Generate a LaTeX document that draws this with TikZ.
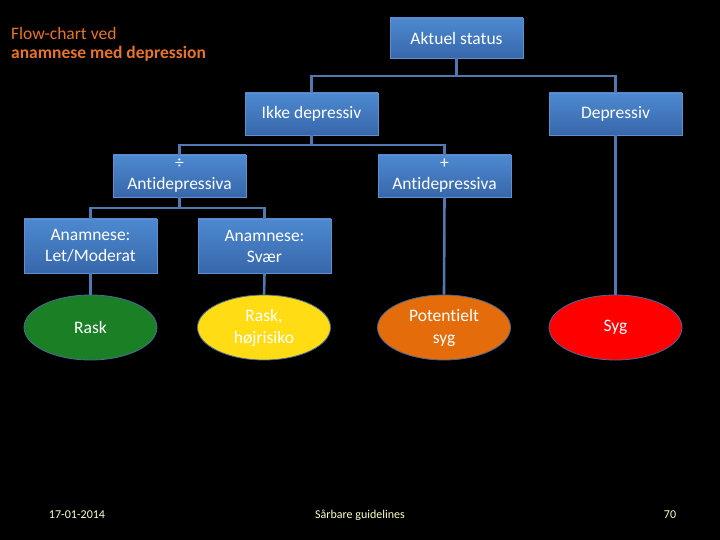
\documentclass[tikz,border=0pt]{standalone}
\usepackage{fontspec}
\setmainfont{Carlito}[Ligatures={NoCommon,NoRare,NoContextual}]
\usetikzlibrary{shapes.geometric}
\definecolor{bgc}{HTML}{000000}
\definecolor{titlec}{HTML}{E8742A}
\definecolor{boxtop}{HTML}{4D89D0}
\definecolor{boxbot}{HTML}{3767AA}
\definecolor{boxedge}{HTML}{5F8FCC}
\definecolor{linec}{HTML}{5178B0}
\definecolor{greenc}{HTML}{1A7F25}
\definecolor{yellowc}{HTML}{FFDC14}
\definecolor{orangec}{HTML}{E46C0A}
\definecolor{redc}{HTML}{FF0000}
\definecolor{elledge}{HTML}{4A6A9A}
\definecolor{footc}{HTML}{FFFFC8}
\tikzset{
  bluebox/.style={rectangle, draw=boxedge, line width=0.8pt, top color=boxtop, bottom color=boxbot,
    minimum width=133pt, text=white, align=center, font=\fontsize{17.5}{21}\selectfont, inner sep=1pt},
  oval/.style={ellipse, draw=elledge, line width=0.8pt, minimum width=133pt, minimum height=65pt,
    text=white, align=center, font=\fontsize{17.5}{22}\selectfont, inner sep=0pt},
  conn/.style={draw=linec, line width=2.6pt, line join=miter},
  foot/.style={text=footc, font=\fontsize{12}{14}\selectfont, inner sep=0pt}
}
\begin{document}
\begin{tikzpicture}[x=1pt,y=-1pt]
\fill[bgc] (0,0) rectangle (720,540);
\useasboundingbox (0,0) rectangle (720,540);

% title
\node[anchor=west, text=titlec, font=\fontsize{17.5}{20}\selectfont, inner sep=0pt] (t1) at (11,33) {Flow-chart ved};
\node[anchor=west, text=titlec, font=\fontsize{17.5}{20}\selectfont\bfseries, inner sep=0pt] (t2) at (11,54) {anamnese med depression};

% coordinates for junctions
\coordinate (j1) at (456.5,76);
\coordinate (j2) at (311.5,145);
\coordinate (j3) at (179.5,208);

% boxes
\node[bluebox, minimum height=40pt] (aktuel) at (456.5,38) {Aktuel status};
\node[bluebox, minimum height=42pt] (ikke) at (311.5,114) {Ikke depressiv};
\node[bluebox, minimum height=42pt] (depr) at (615.5,114) {Depressiv};
\node[bluebox, minimum height=42pt] (minus) at (179.5,176) {÷\\Antidepressiva};
\node[bluebox, minimum height=42pt] (plus) at (444.5,176) {+\\Antidepressiva};
\node[bluebox, minimum height=54pt] (let) at (90.5,246) {Anamnese:\\Let/Moderat};
\node[bluebox, minimum height=54pt] (svaer) at (264.5,246) {Anamnese:\\Svær};

% ellipses
\node[oval, fill=greenc] (rask) at (90.5,327.5) {Rask};
\node[oval, fill=yellowc] (hoj) at (264,327.5) {Rask,\\højrisiko};
\node[oval, fill=orangec] (pot) at (444,327.5) {Potentielt\\syg};
\node[oval, fill=redc] (syg) at (615.5,327.5) {Syg};

% connectors
\draw[conn] (aktuel.south) -- (j1);
\draw[conn] (ikke.north) |- (j1) -| (depr.north);
\draw[conn] (ikke.south) -- (j2);
\draw[conn] (minus.north) |- (j2) -| (plus.north);
\draw[conn] (minus.south) -- (j3);
\draw[conn] (let.north) |- (j3) -| (svaer.north);
\draw[conn] (let.south) -- (rask.north);
\draw[conn] (svaer.south) -- (hoj.north);
\draw[conn] (plus.south) -- (pot.north);
\draw[conn] (depr.south) -- (syg.north);

% footer
\node[foot] (date) at (77,515) {17-01-2014};
\node[foot] (mid) at (360,515) {Sårbare guidelines};
\node[foot] (num) at (670,515) {70};
\end{tikzpicture}
\end{document}
